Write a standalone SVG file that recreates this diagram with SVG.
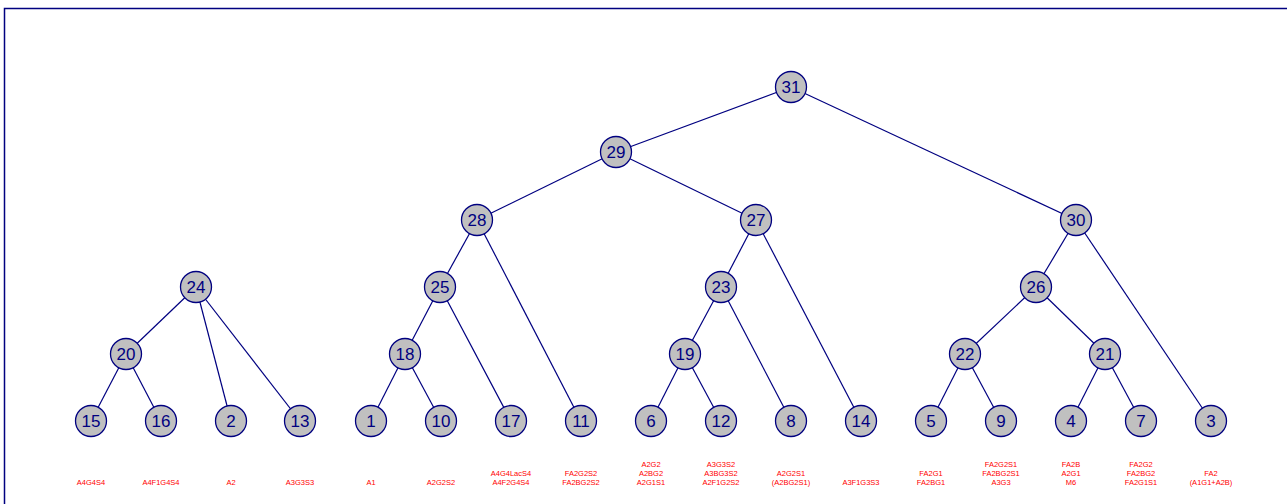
<svg xmlns="http://www.w3.org/2000/svg" width="1287" height="504" viewBox="0 0 1287 504">
<style>
.n circle{fill:#c0c0c0;stroke:#000080;stroke-width:1.3}
.n text{font-family:"Liberation Sans",Arial,sans-serif;font-size:17px;fill:#000080;text-anchor:middle}
.e line{stroke:#000080;stroke-width:1.2}
.l{font-family:"Liberation Sans",Arial,sans-serif;font-size:7.5px;fill:#ff0000;text-anchor:middle}
</style>
<rect width="1287" height="504" fill="#fff"/>
<rect x="4.5" y="8.5" width="1300" height="520" fill="none" stroke="#000080" stroke-width="1.5"/>
<g id="connectors" class="e">
<line x1="791" y1="87" x2="616" y2="152"/>
<line x1="791" y1="87" x2="1076" y2="220"/>
<line x1="616" y1="152" x2="477" y2="220"/>
<line x1="616" y1="152" x2="756" y2="220"/>
<line x1="477" y1="220" x2="440" y2="287"/>
<line x1="477" y1="220" x2="581" y2="421"/>
<line x1="756" y1="220" x2="721" y2="287"/>
<line x1="756" y1="220" x2="861" y2="421"/>
<line x1="1076" y1="220" x2="1036" y2="287"/>
<line x1="1076" y1="220" x2="1211" y2="421"/>
<line x1="196" y1="287" x2="126" y2="354"/>
<line x1="196" y1="287" x2="231" y2="421"/>
<line x1="196" y1="287" x2="300" y2="421"/>
<line x1="440" y1="287" x2="405" y2="354"/>
<line x1="440" y1="287" x2="511" y2="421"/>
<line x1="721" y1="287" x2="685" y2="354"/>
<line x1="721" y1="287" x2="791" y2="421"/>
<line x1="1036" y1="287" x2="965" y2="354"/>
<line x1="1036" y1="287" x2="1105" y2="354"/>
<line x1="126" y1="354" x2="91" y2="421"/>
<line x1="126" y1="354" x2="161" y2="421"/>
<line x1="405" y1="354" x2="371" y2="421"/>
<line x1="405" y1="354" x2="441" y2="421"/>
<line x1="685" y1="354" x2="651" y2="421"/>
<line x1="685" y1="354" x2="721" y2="421"/>
<line x1="965" y1="354" x2="931" y2="421"/>
<line x1="965" y1="354" x2="1001" y2="421"/>
<line x1="1105" y1="354" x2="1071" y2="421"/>
<line x1="1105" y1="354" x2="1141" y2="421"/>
</g>
<g id="n31" class="n"><circle cx="791" cy="87" r="15.5"/><text x="791" y="93">31</text></g>
<g id="n29" class="n"><circle cx="616" cy="152" r="15.5"/><text x="616" y="158">29</text></g>
<g id="n28" class="n"><circle cx="477" cy="220" r="15.5"/><text x="477" y="226">28</text></g>
<g id="n27" class="n"><circle cx="756" cy="220" r="15.5"/><text x="756" y="226">27</text></g>
<g id="n30" class="n"><circle cx="1076" cy="220" r="15.5"/><text x="1076" y="226">30</text></g>
<g id="n24" class="n"><circle cx="196" cy="287" r="15.5"/><text x="196" y="293">24</text></g>
<g id="n25" class="n"><circle cx="440" cy="287" r="15.5"/><text x="440" y="293">25</text></g>
<g id="n23" class="n"><circle cx="721" cy="287" r="15.5"/><text x="721" y="293">23</text></g>
<g id="n26" class="n"><circle cx="1036" cy="287" r="15.5"/><text x="1036" y="293">26</text></g>
<g id="n20" class="n"><circle cx="126" cy="354" r="15.5"/><text x="126" y="360">20</text></g>
<g id="n18" class="n"><circle cx="405" cy="354" r="15.5"/><text x="405" y="360">18</text></g>
<g id="n19" class="n"><circle cx="685" cy="354" r="15.5"/><text x="685" y="360">19</text></g>
<g id="n22" class="n"><circle cx="965" cy="354" r="15.5"/><text x="965" y="360">22</text></g>
<g id="n21" class="n"><circle cx="1105" cy="354" r="15.5"/><text x="1105" y="360">21</text></g>
<g id="n15" class="n"><circle cx="91" cy="421" r="15.5"/><text x="91" y="427">15</text></g>
<g id="n16" class="n"><circle cx="161" cy="421" r="15.5"/><text x="161" y="427">16</text></g>
<g id="n2" class="n"><circle cx="231" cy="421" r="15.5"/><text x="231" y="427">2</text></g>
<g id="n13" class="n"><circle cx="300" cy="421" r="15.5"/><text x="300" y="427">13</text></g>
<g id="n1" class="n"><circle cx="371" cy="421" r="15.5"/><text x="371" y="427">1</text></g>
<g id="n10" class="n"><circle cx="441" cy="421" r="15.5"/><text x="441" y="427">10</text></g>
<g id="n17" class="n"><circle cx="511" cy="421" r="15.5"/><text x="511" y="427">17</text></g>
<g id="n11" class="n"><circle cx="581" cy="421" r="15.5"/><text x="581" y="427">11</text></g>
<g id="n6" class="n"><circle cx="651" cy="421" r="15.5"/><text x="651" y="427">6</text></g>
<g id="n12" class="n"><circle cx="721" cy="421" r="15.5"/><text x="721" y="427">12</text></g>
<g id="n8" class="n"><circle cx="791" cy="421" r="15.5"/><text x="791" y="427">8</text></g>
<g id="n14" class="n"><circle cx="861" cy="421" r="15.5"/><text x="861" y="427">14</text></g>
<g id="n5" class="n"><circle cx="931" cy="421" r="15.5"/><text x="931" y="427">5</text></g>
<g id="n9" class="n"><circle cx="1001" cy="421" r="15.5"/><text x="1001" y="427">9</text></g>
<g id="n4" class="n"><circle cx="1071" cy="421" r="15.5"/><text x="1071" y="427">4</text></g>
<g id="n7" class="n"><circle cx="1141" cy="421" r="15.5"/><text x="1141" y="427">7</text></g>
<g id="n3" class="n"><circle cx="1211" cy="421" r="15.5"/><text x="1211" y="427">3</text></g>
<g id="labels">
<text class="l" x="91" y="485">A4G4S4</text>
<text class="l" x="161" y="485">A4F1G4S4</text>
<text class="l" x="231" y="485">A2</text>
<text class="l" x="300" y="485">A3G3S3</text>
<text class="l" x="371" y="485">A1</text>
<text class="l" x="441" y="485">A2G2S2</text>
<text class="l" x="511" y="476">A4G4LacS4</text>
<text class="l" x="511" y="485">A4F2G4S4</text>
<text class="l" x="581" y="476">FA2G2S2</text>
<text class="l" x="581" y="485">FA2BG2S2</text>
<text class="l" x="651" y="467">A2G2</text>
<text class="l" x="651" y="476">A2BG2</text>
<text class="l" x="651" y="485">A2G1S1</text>
<text class="l" x="721" y="467">A3G3S2</text>
<text class="l" x="721" y="476">A3BG3S2</text>
<text class="l" x="721" y="485">A2F1G2S2</text>
<text class="l" x="791" y="476">A2G2S1</text>
<text class="l" x="791" y="485">(A2BG2S1)</text>
<text class="l" x="861" y="485">A3F1G3S3</text>
<text class="l" x="931" y="476">FA2G1</text>
<text class="l" x="931" y="485">FA2BG1</text>
<text class="l" x="1001" y="467">FA2G2S1</text>
<text class="l" x="1001" y="476">FA2BG2S1</text>
<text class="l" x="1001" y="485">A3G3</text>
<text class="l" x="1071" y="467">FA2B</text>
<text class="l" x="1071" y="476">A2G1</text>
<text class="l" x="1071" y="485">M6</text>
<text class="l" x="1141" y="467">FA2G2</text>
<text class="l" x="1141" y="476">FA2BG2</text>
<text class="l" x="1141" y="485">FA2G1S1</text>
<text class="l" x="1211" y="476">FA2</text>
<text class="l" x="1211" y="485">(A1G1+A2B)</text>
</g>
</svg>
